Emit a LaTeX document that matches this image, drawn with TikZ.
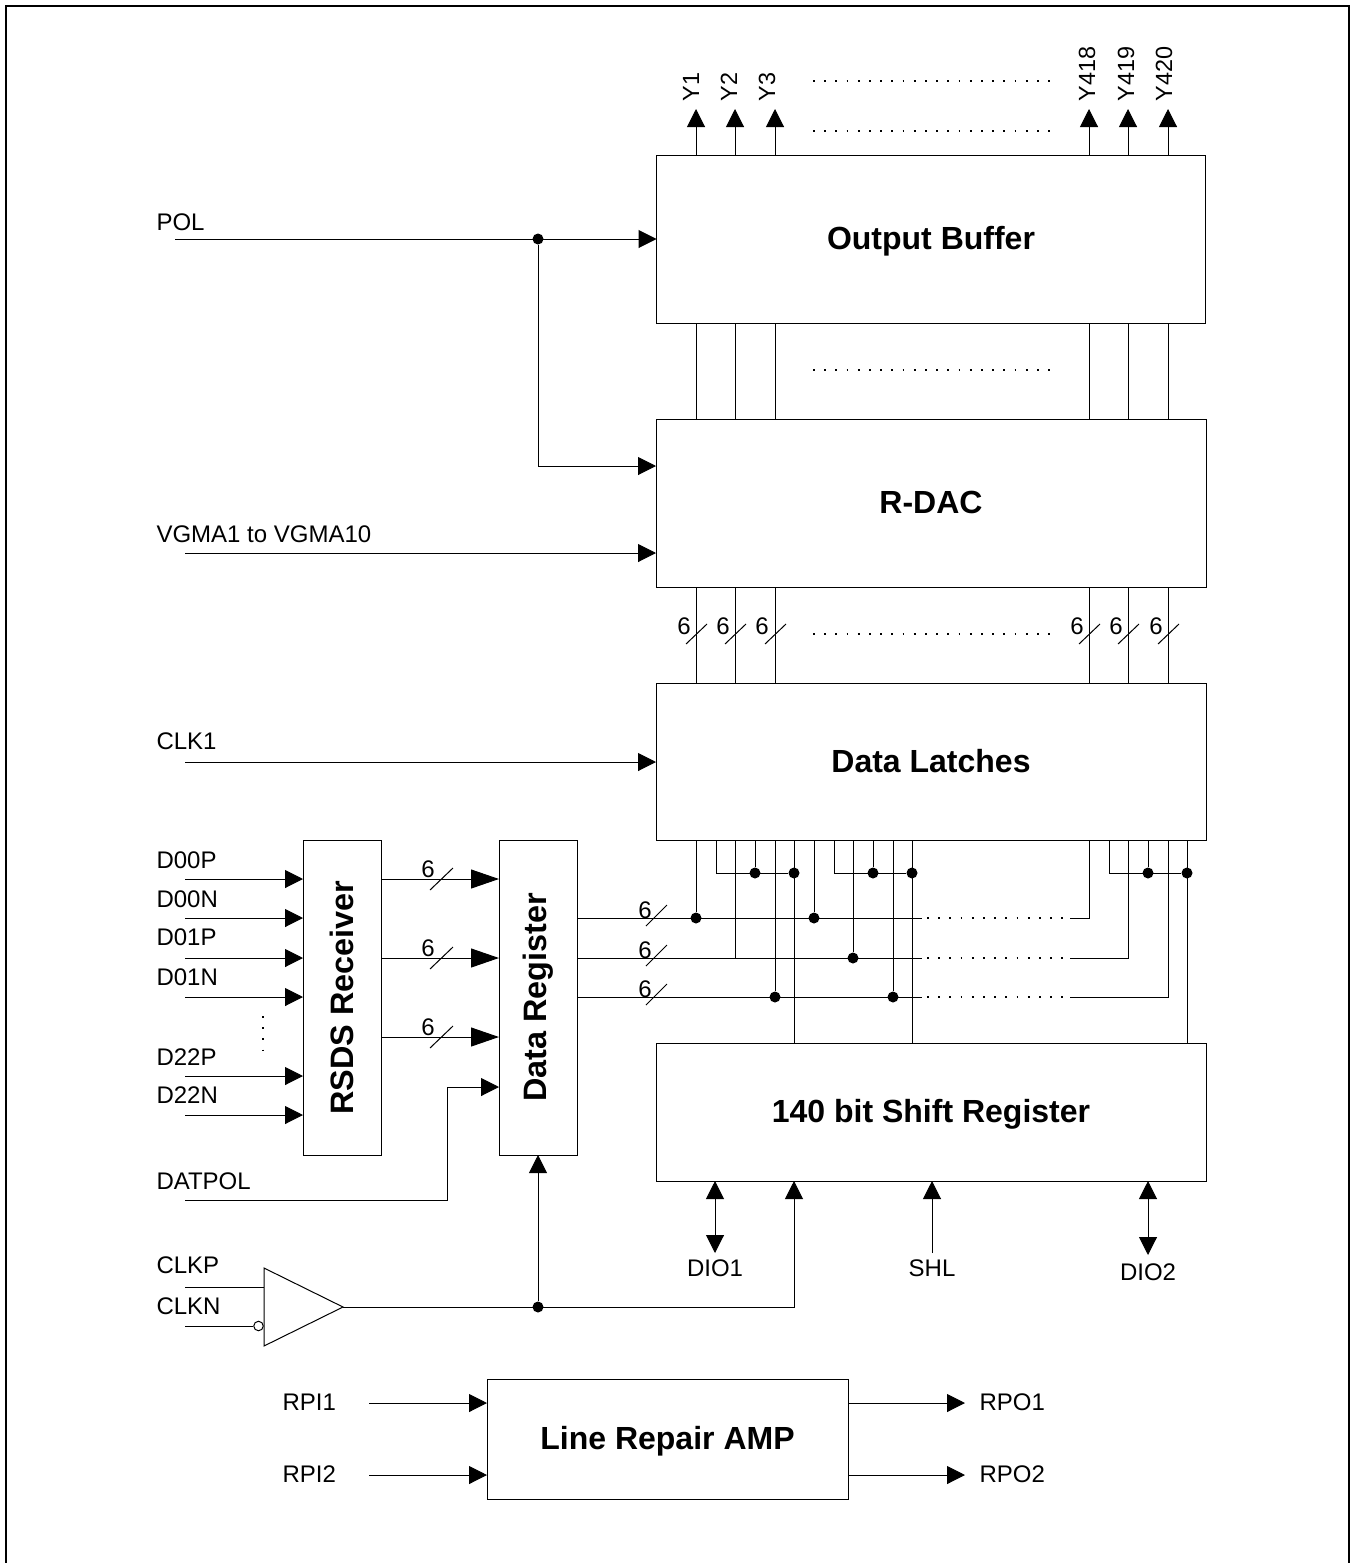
\documentclass[tikz,border=0pt]{standalone}
\usepackage{fontspec}
\setmainfont{Liberation Sans}
\usetikzlibrary{arrows.meta}
\begin{document}
\begin{tikzpicture}[x=0.5pt,y=-0.5pt,line width=0.5pt]
	\tikzstyle{dot}=[circle,fill=black,inner sep=0pt,minimum size=5.5pt]
	\tikzstyle{box}=[draw,inner sep=0pt,outer sep=0pt,text height=10.5pt,text depth=0pt,font=\fontsize{16}{18}\bfseries\selectfont]
	\tikzstyle{vbox}=[draw,inner sep=0pt,outer sep=0pt,font=\fontsize{16.2}{18}\bfseries\selectfont]
	\tikzstyle{lab}=[inner sep=0pt,anchor=west,font=\fontsize{12}{14}\selectfont]
	\tikzstyle{num}=[inner sep=0pt,font=\fontsize{12}{14}\selectfont]
	\tikzstyle{arr}=[-{Triangle[length=9pt,width=9pt]}]
	\tikzstyle{bigarr}=[-{Triangle[length=14pt,width=9.5pt]}]
	\tikzstyle{dblarr}=[{Triangle[length=9pt,width=9pt]}-{Triangle[length=9pt,width=9pt]}]
	\tikzstyle{dots}=[line width=0.9pt,dash pattern=on 0.9pt off 4.7pt]
	\useasboundingbox (0,0) rectangle (1355,1563);
	\draw[line width=1.3pt] (6,1563) -- (6,6) -- (1349,6) -- (1349,1563);
	% blocks
	\node[box,minimum width=274.5pt,minimum height=84pt] (outbuf) at (931,239) {Output Buffer};
	\node[box,minimum width=275pt,minimum height=84pt] (rdac) at (931,503) {R-DAC};
	\node[box,minimum width=275pt,minimum height=78.5pt] (latch) at (931,761.5) {Data Latches};
	\node[box,minimum width=275pt,minimum height=69pt] (shift) at (931,1112) {140 bit Shift Register};
	\node[vbox,minimum width=39pt,minimum height=157.5pt] (rsds) at (342,997.5) {\rotatebox{90}{RSDS Receiver}};
	\node[vbox,minimum width=39pt,minimum height=157.5pt] (dreg) at (538,997.5) {\rotatebox{90}{Data Register}};
	\node[box,minimum width=180.5pt,minimum height=60pt] (repair) at (667.5,1439) {Line Repair AMP};
	% outputs and the wires between the upper blocks
	\foreach \n/\x/\t/\l/\d in {a/696/Y1/691/684,b/735/Y2/729/723,c/775/Y3/767/762,d/1089/Y418/1087/1077,e/1128/Y419/1126/1116,f/1168/Y420/1164/1156}{
		\coordinate (tip\n) at (\x,109);
		\node[lab,rotate=90,font=\fontsize{11.7}{14}\selectfont] (out\n) at (\l,101.5) {\t};
		\draw[arr] (outbuf.north -| tip\n) -- (tip\n);
		\draw (outbuf.south -| tip\n) -- (rdac.north -| tip\n);
		\draw (rdac.south -| tip\n) -- (latch.north -| tip\n);
		\draw (\x-10,644) -- (\x+11,624);
		\node[num] (six\n) at (\d,626) {6};
	}
	\draw[dots] (813,81) -- (1050,81);
	\draw[dots] (813,131) -- (1050,131);
	\draw[dots] (813,370) -- (1050,370);
	\draw[dots] (813,634) -- (1050,634);
	% left inputs
	\node[lab] (pol) at (156,222) {POL};
	\coordinate (polin) at (175,239);
	\node[dot] (poldot) at (538,239) {};
	\draw[arr] (polin) -- (outbuf.west |- polin);
	\coordinate (polr) at (538,466);
	\draw[arr] (poldot) -- (polr) -- (rdac.west |- polr);
	\node[lab] (vgma) at (156,534) {VGMA1 to VGMA10};
	\coordinate (vgmain) at (185,553);
	\draw[arr] (vgmain) -- (rdac.west |- vgmain);
	\node[lab] (clka) at (156,741) {CLK1};
	\coordinate (clkin) at (185,762);
	\draw[arr] (clkin) -- (latch.west |- clkin);
	\foreach \n/\y/\t/\l in {a/879/D00P/860,b/918/D00N/899,c/958/D01P/937,d/997/D01N/977,e/1076/D22P/1057,f/1115/D22N/1095}{
		\coordinate (din\n) at (185,\y);
		\node[lab] (dlab\n) at (156,\l) {\t};
		\draw[arr] (din\n) -- (rsds.west |- din\n);
	}
	\draw[dots] (263,1016) -- (263,1056);
	% receiver to register
	\foreach \n/\y in {a/879,b/958,c/1037}{
		\coordinate (rx\n) at (381,\y);
		\draw[bigarr] (rx\n) -- (dreg.west |- rx\n);
		\draw (430,\y+11) -- (453,\y-11);
		\node[num] (rxsix\n) at (428,\y-10) {6};
	}
	\node[lab] (datpol) at (156,1181) {DATPOL};
	\coordinate (datin) at (185,1200);
	\coordinate (datr) at (447,1087);
	\draw[arr] (datin) -- (datin -| datr) -- (datr) -- (dreg.west |- datr);
	% data rows below the latches
	\foreach \n/\y/\e in {a/918/1089,b/958/1128,c/997/1168}{
		\coordinate (row\n) at (922,\y);
		\coordinate (rowr\n) at (1070,\y);
		\coordinate (rowe\n) at (\e,\y);
		\draw (dreg.east |- row\n) -- (row\n);
		\draw[dots] (927,\y) -- (1066,\y);
		\draw (rowr\n) -- (rowe\n) -- (latch.south -| rowe\n);
		\draw (646,\y+8) -- (667,\y-13);
		\node[num] (rowsix\n) at (645,\y-8) {6};
	}
	\foreach \x/\r in {696/a,814/a,853/b,775/c,893/c}{
		\coordinate (t) at (\x,873);
		\node[dot] (tap\x) at (t |- row\r) {};
		\draw (latch.south -| t) -- (tap\x);
	}
	\coordinate (t) at (735,873);
	\draw (latch.south -| t) -- (t |- rowb);
	% enable lines
	\foreach \a/\b/\c in {716/755/794,834/873/912,1109/1148/1187}{
		\coordinate (ea) at (\a,873);
		\node[dot] (eb\b) at (\b,873) {};
		\node[dot] (ec\c) at (\c,873) {};
		\draw (latch.south -| ea) -- (ea) -- (ec\c);
		\draw (latch.south -| eb\b) -- (eb\b);
		\draw (latch.south -| ec\c) -- (shift.north -| ec\c);
	}
	% clock
	\coordinate (ampa) at (264,1268);
	\coordinate (ampb) at (264,1346);
	\coordinate (ampc) at (343,1307);
	\draw (ampa) -- (ampb) -- (ampc) -- cycle;
	\node[lab] (clkp) at (156,1265) {CLKP};
	\node[lab] (clkn) at (156,1306) {CLKN};
	\coordinate (clkpin) at (185,1287);
	\coordinate (clknin) at (185,1326);
	\node[draw,circle,inner sep=0pt,minimum size=4.75pt] (bub) at (258.5,1326) {};
	\draw (clkpin) -- (ampa |- clkpin);
	\draw (clknin) -- (bub);
	\node[dot] (clkdot) at (538,1307) {};
	\coordinate (clkr) at (794,1307);
	\draw[arr] (ampc) -- (clkr) -- (shift.south -| clkr);
	\draw[arr] (clkdot) -- (dreg.south);
	% shift register pins
	\node[lab,anchor=center] (dioa) at (715,1268) {DIO1};
	\node[lab,anchor=center] (shl) at (932,1268) {SHL};
	\node[lab,anchor=center] (diob) at (1148,1272) {DIO2};
	\coordinate (dioaend) at (715,1253);
	\coordinate (shlend) at (932,1253);
	\coordinate (diobend) at (1148,1255);
	\draw[dblarr] (shift.south -| dioaend) -- (dioaend);
	\draw[arr] (shlend) -- (shift.south -| shlend);
	\draw[dblarr] (shift.south -| diobend) -- (diobend);
	% line repair
	\foreach \n/\y in {1/1403,2/1475}{
		\coordinate (rin\n) at (369,\y);
		\coordinate (rout\n) at (965,\y);
		\node[lab] (rpi\n) at (282,\y-1) {RPI\n};
		\node[lab] (rpo\n) at (979,\y-1) {RPO\n};
		\draw[arr] (rin\n) -- (repair.west |- rin\n);
		\draw[arr] (repair.east |- rout\n) -- (rout\n);
	}
\end{tikzpicture}
\end{document}
